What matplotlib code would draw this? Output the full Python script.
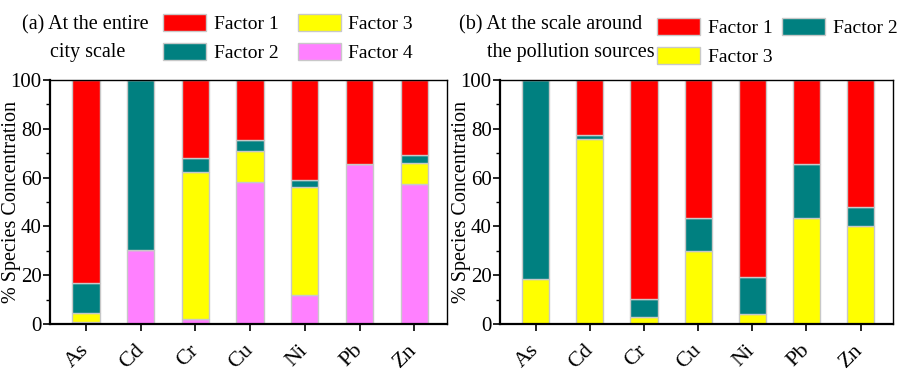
import numpy as np
import matplotlib
matplotlib.use("Agg")
import matplotlib.pyplot as plt
from matplotlib.patches import Patch

plt.rcParams['font.family'] = ['Liberation Serif', 'DejaVu Serif']

metals = ["As", "Cd", "Cr", "Cu", "Ni", "Pb", "Zn"]

# (a) entire city scale, % per factor
city_f1 = [83.2, 0.0, 31.8, 24.6, 41.1, 34.4, 30.6]
city_f2 = [12.4, 69.5, 5.8, 4.4, 2.6, 0.0, 3.3]
city_f3 = [3.4, 0.0, 60.4, 12.8, 44.3, 0.0, 8.7]
city_f4 = [1.0, 30.5, 2.0, 58.2, 12.0, 65.6, 57.4]

# (b) around the pollution sources
src_f1 = [0.0, 22.4, 89.8, 56.7, 80.9, 34.6, 52.2]
src_f2 = [81.7, 1.8, 7.5, 13.2, 15.0, 22.1, 7.6]
src_f3 = [18.3, 75.8, 2.7, 30.1, 4.1, 43.3, 40.2]

c_f1 = "#ff0000"
c_f2 = "#008080"
c_f3 = "#ffff00"
c_f4 = "#ff80ff"
edge = "#c8c8c8"

fig = plt.figure(figsize=(9, 3.74), dpi=100)
axa = fig.add_axes([50/900, 1-324/374, 397/900, 244/374])
axb = fig.add_axes([500/900, 1-324/374, 393/900, 244/374])

x = np.arange(len(metals))
w = 0.5


def stack(ax, layers):
    bottom = np.zeros(len(metals))
    for vals, col in layers:
        vals = np.array(vals)
        ax.bar(x, vals, w, bottom=bottom, color=col, edgecolor=edge, linewidth=1)
        bottom += vals


stack(axa, [(city_f4, c_f4), (city_f3, c_f3), (city_f2, c_f2), (city_f1, c_f1)])
stack(axb, [(src_f3, c_f3), (src_f2, c_f2), (src_f1, c_f1)])

for ax in (axa, axb):
    ax.set_xlim(-0.66, 6.6)
    ax.set_ylim(0, 100)
    ax.set_yticks([0, 20, 40, 60, 80, 100])
    ax.set_yticks([10, 30, 50, 70, 90], minor=True)
    ax.set_xticks(x)
    ax.set_xticklabels(metals, rotation=45, fontsize=16, ha='right', va='center',
                       rotation_mode='anchor')
    ax.tick_params(axis='y', labelsize=15, direction='out', length=5, width=1.2, pad=1)
    ax.tick_params(axis='y', which='minor', direction='out', length=3, width=1)
    ax.tick_params(axis='x', direction='out', length=5, width=1.2, pad=12)
    ax.set_ylabel("% Species Concentration", fontsize=14.5)
    ax.spines['left'].set_linewidth(1.6)
    ax.spines['bottom'].set_linewidth(1.6)
    ax.spines['top'].set_linewidth(1.0)
    ax.spines['right'].set_linewidth(1.0)

# label coords give the baseline side (right edge) of the rotated label
axa.yaxis.set_label_coords(-29/397, 0.5)
axb.yaxis.set_label_coords(-29/393, 0.5)

# titles
fig.text(22/900, 1-25/374, "(a) At the entire", fontsize=14.5, va='center', ha='left')
fig.text(50/900, 1-52/374, "city scale", fontsize=14.5, va='center', ha='left')
fig.text(459/900, 1-25/374, "(b) At the scale around", fontsize=14.5, va='center', ha='left')
fig.text(487/900, 1-53/374, "the pollution sources", fontsize=14.5, va='center', ha='left')

leg_kw = dict(frameon=False, fontsize=14, ncol=2, handlelength=2.2, handleheight=1.0,
              handletextpad=0.4, borderpad=0, borderaxespad=0, labelspacing=0.5)

ha = [Patch(facecolor=c_f1, edgecolor=edge), Patch(facecolor=c_f2, edgecolor=edge),
      Patch(facecolor=c_f3, edgecolor=edge), Patch(facecolor=c_f4, edgecolor=edge)]
fig.legend(ha, ["Factor 1", "Factor 2", "Factor 3", "Factor 4"], loc='upper left',
           bbox_to_anchor=(163/900, 1-14/374), columnspacing=1.0, **leg_kw)

hb = [Patch(facecolor=c_f1, edgecolor=edge), Patch(facecolor=c_f3, edgecolor=edge),
      Patch(facecolor=c_f2, edgecolor=edge)]
fig.legend(hb, ["Factor 1", "Factor 3", "Factor 2"], loc='upper left',
           bbox_to_anchor=(657/900, 1-18/374), columnspacing=0.5, **leg_kw)

fig.savefig("out.png", dpi=100)
